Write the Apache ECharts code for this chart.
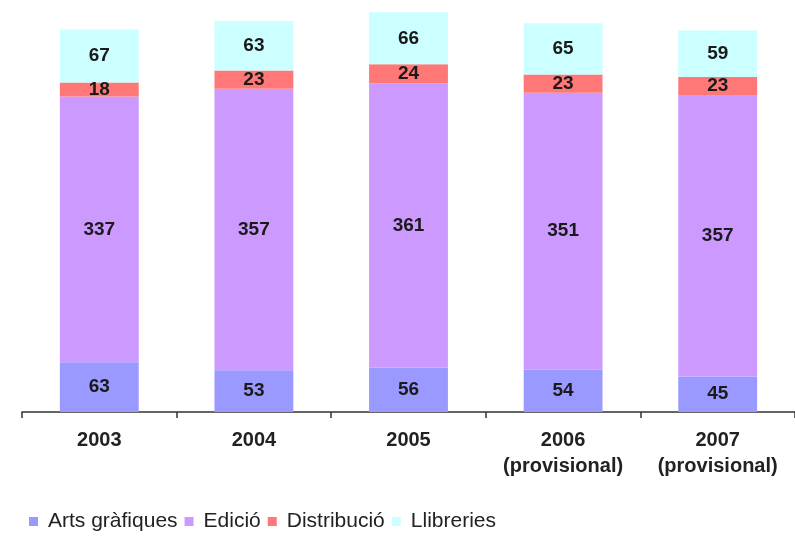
<!DOCTYPE html>
<html>
<head>
<meta charset="utf-8">
<script src="https://cdn.jsdelivr.net/npm/echarts@6/dist/echarts.min.js"></script>
<style>
  html, body { margin: 0; padding: 0; background: #ffffff; }
  #chart { width: 795px; height: 536px; }
</style>
</head>
<body>
<div id="chart"></div>
<script>
// Years shown on the category axis
const categories = ['2003', '2004', '2005', '2006\n(provisional)', '2007\n(provisional)'];

// Stacked values per sector
const artsGrafiques = [63, 53, 56, 54, 45];
const edicio = [337, 357, 361, 351, 357];
const distribucio = [18, 23, 24, 23, 23];
const llibreries = [67, 63, 66, 65, 59];

const seriesNames = ['Arts gràfiques', 'Edició', 'Distribució', 'Llibreries'];
const seriesColors = ['#9999ff', '#cc99ff', '#ff7777', '#ccffff'];
const seriesData = [artsGrafiques, edicio, distribucio, llibreries];

const fontFamily = 'Liberation Sans, Arial, sans-serif';

const chart = echarts.init(document.getElementById('chart'), null, { renderer: 'canvas' });

chart.setOption({
  animation: false,
  backgroundColor: '#ffffff',
  grid: { left: 22, top: 2, width: 775, height: 410, containLabel: false },
  legend: {
    top: 506,
    left: 24,
    itemWidth: 9,
    itemHeight: 9,
    itemGap: 7,
    icon: 'rect',
    textStyle: { fontFamily: fontFamily, fontSize: 21, color: '#222222', padding: [0, 0, 0, 5] },
    data: seriesNames
  },
  xAxis: {
    type: 'category',
    data: categories,
    axisLine: { lineStyle: { color: '#333333', width: 1.5 } },
    axisTick: { show: true, interval: 0, length: 6, lineStyle: { color: '#333333', width: 1.5 } },
    axisLabel: {
      interval: 0,
      margin: 15,
      fontFamily: fontFamily,
      fontSize: 20,
      fontWeight: 'bold',
      color: '#222222',
      lineHeight: 26
    }
  },
  yAxis: {
    type: 'value',
    min: 0,
    max: 520,
    show: false
  },
  series: seriesData.map((d, i) => ({
    name: seriesNames[i],
    type: 'bar',
    stack: 'total',
    barWidth: '51%',
    data: d,
    itemStyle: { color: seriesColors[i] },
    label: {
      show: true,
      position: 'inside',
      fontFamily: fontFamily,
      fontSize: 19,
      fontWeight: 'bold',
      color: '#1a1a1a'
    }
  }))
});
</script>
</body>
</html>
